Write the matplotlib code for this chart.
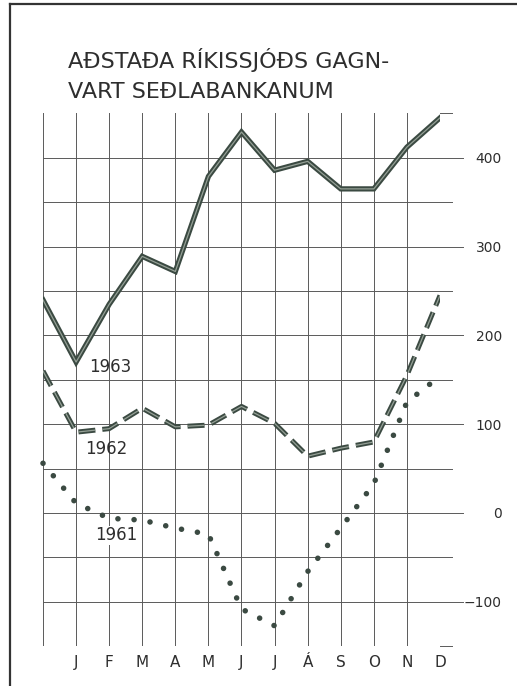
import matplotlib
matplotlib.use("Agg")
import matplotlib.pyplot as plt
from matplotlib.lines import Line2D

# gögn lesin af myndinni (milljónir kr.), 0 = lok fyrra árs
manudir = ["J", "F", "M", "A", "M", "J", "J", "Á", "S", "O", "N", "D"]
ar1963 = [240, 170, 235, 289, 272, 379, 429, 386, 396, 365, 365, 412, 445]
ar1962 = [160, 91, 95, 118, 97, 99, 120, 101, 64, 73, 80, 155, 245]
ar1961 = [56, 11, -6, -8, -17, -24, -108, -127, -66, -17, 33, 125, 154]
y_merki = [400, 300, 200, 100, 0, -100]
y_texti = ["400", "300", "200", "100", "0", "\u2212100"]

LINA = "#3b4a42"
INNRI = "#95a096"
GRID = "#5a5a5a"
TEXTI = "#2e2e2e"

fig = plt.figure(figsize=(5.17, 6.86), dpi=100)
fig.patch.set_facecolor("white")
ax = fig.add_axes([43 / 517, 1 - 646.2 / 686, 397 / 517, (646.2 - 113.4) / 686])
ax.set_xlim(0, 12)
ax.set_ylim(-150, 450)
for s in ax.spines.values():
    s.set_visible(False)

# rúðunet
for i in range(13):
    ax.plot([i, i], [-150, 450], color=GRID, lw=0.7, zorder=1)
for v in range(-100, 450, 50):
    endir = 12.695 if v % 100 == 0 else 12.363
    ax.plot([0, endir], [v, v], color=GRID, lw=0.7, zorder=1, clip_on=False)
ax.plot([12, 12.363], [450, 450], color=GRID, lw=0.7, clip_on=False)
ax.plot([12, 12.363], [-150, -150], color=GRID, lw=0.7, clip_on=False)

x = list(range(13))

# 1963 - tvöföld lína
ax.plot(x, ar1963, color=LINA, lw=3.8, solid_joinstyle="miter", zorder=4)
ax.plot(x, ar1963, color=INNRI, lw=0.9, zorder=5)

# 1962 - strikalína
ax.plot(x, ar1962, color=LINA, lw=3.6, dashes=(3.4, 1.4), dash_capstyle="butt", zorder=4)
ax.plot(x, ar1962, color=INNRI, lw=0.9, dashes=(13.6, 5.6), dash_capstyle="butt", zorder=5)

# 1961 - punktalína
ax.plot(x, ar1961, color=LINA, lw=4.0, dashes=(0.01, 2.9), dash_capstyle="round",
        zorder=4, clip_on=False)

ax.text(2.03, 164, "1963", fontsize=12, color=TEXTI, ha="center", va="center", zorder=6)
ax.text(1.90, 72, "1962", fontsize=12, color=TEXTI, ha="center", va="center", zorder=6)
ax.text(2.21, -25, "1961", fontsize=12, color=TEXTI, ha="center", va="center",
        zorder=6, bbox=dict(facecolor="white", edgecolor="none", pad=0.5))

ax.set_xticks(range(1, 13))
ax.set_xticklabels(manudir, fontsize=11, color=TEXTI)
ax.tick_params(axis="x", length=0, pad=6)

ax.set_yticks(y_merki)
ax.set_yticklabels(y_texti, fontsize=10, color=TEXTI)
ax.tick_params(axis="y", length=0, left=False, labelleft=False,
               right=False, labelright=True, pad=44.6)
for lab in ax.get_yticklabels():
    lab.set_horizontalalignment("right")

# fyrirsögn
fig.text(68 / 517, 1 - 60 / 686, "AÐSTAÐA RÍKISSJÓÐS GAGN-", fontsize=16,
         color=TEXTI, ha="left", va="center")
fig.text(68 / 517, 1 - 92 / 686, "VART SEÐLABANKANUM", fontsize=16,
         color=TEXTI, ha="left", va="center")

# rammi
fig.add_artist(Line2D([10 / 517, 10 / 517], [0, 1 - 4 / 686], color="#333333", lw=1.6))
fig.add_artist(Line2D([10 / 517, 1], [1 - 4 / 686, 1 - 4 / 686], color="#333333", lw=1.6))

fig.savefig("out.png", dpi=100, facecolor="white")
